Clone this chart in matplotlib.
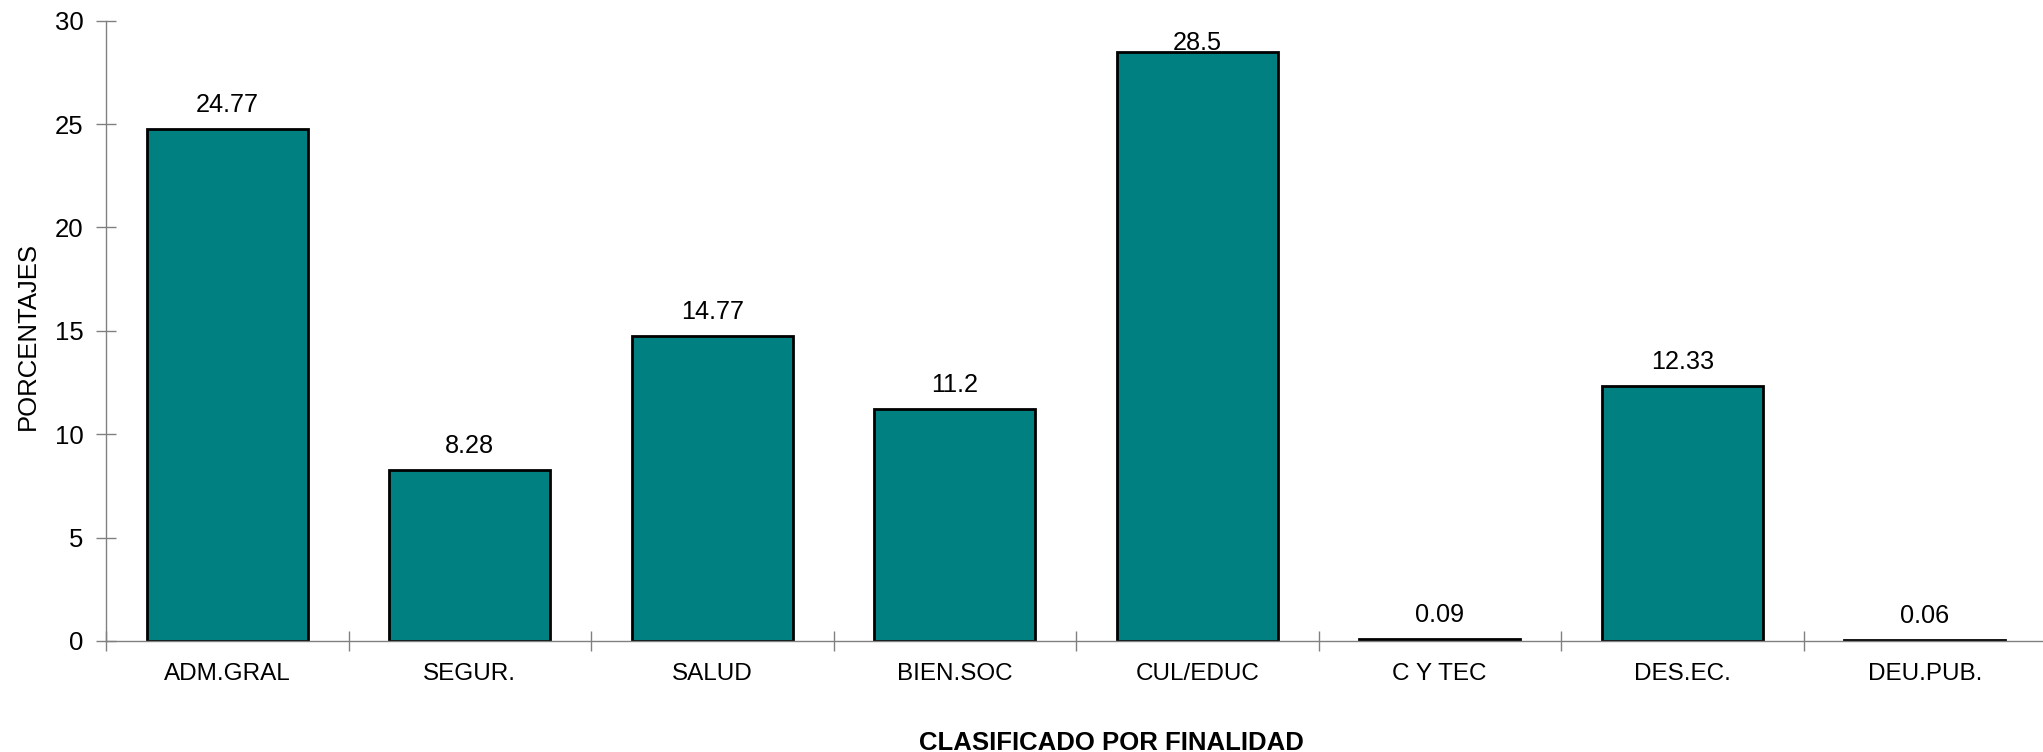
import matplotlib.pyplot as plt
import numpy as np

plt.rcParams["font.family"] = ["Liberation Sans", "DejaVu Sans"]

categories = ["ADM.GRAL", "SEGUR.", "SALUD", "BIEN.SOC", "CUL/EDUC", "C Y TEC", "DES.EC.", "DEU.PUB."]
values = [24.77, 8.28, 14.77, 11.2, 28.5, 0.09, 12.33, 0.06]
labels = ["24.77", "8.28", "14.77", "11.2", "28.5", "0.09", "12.33", "0.06"]

W, H = 2043, 752
fig = plt.figure(figsize=(W / 100, H / 100), dpi=100)
ax = fig.add_axes([106 / W, 1 - 641 / H, 1940 / W, 620.3 / H])

x = np.arange(len(categories))
ax.bar(x, values, width=0.665, color="#008080", edgecolor="black", linewidth=2.0)

# value labels above bars, kept inside the plot area
for xi, v, lab in zip(x, values, labels):
    yb = min(v + 0.82, 28.58)
    ax.text(xi, yb, lab, ha="center", va="baseline", fontsize=18.2)

ax.set_xlim(-0.5, len(categories) - 0.5)
ax.set_ylim(0, 30)
ax.set_yticks(range(0, 31, 5))

# category boundaries as major ticks, names on minor ticks
ax.set_xticks(np.arange(-0.5, len(categories), 1.0))
ax.set_xticklabels([])
ax.set_xticks(x, minor=True)
ax.set_xticklabels(categories, minor=True, fontsize=17.5)
ax.tick_params(axis="x", which="major", direction="inout", length=14, width=1, color="#808080")
ax.tick_params(axis="x", which="minor", length=0, pad=16)
ax.tick_params(axis="y", direction="inout", length=14, width=1, color="#808080",
               labelsize=18.5, pad=9)

for s in ["top", "right"]:
    ax.spines[s].set_visible(False)
for s in ["left", "bottom"]:
    ax.spines[s].set_color("#808080")
    ax.spines[s].set_linewidth(1.0)

fig.text(27.5 / W, 1 - 336 / H, "PORCENTAJES", rotation=90, ha="center", va="center", fontsize=18.5)
fig.text(1111.5 / W, 1 - 743.5 / H, "CLASIFICADO POR FINALIDAD", ha="center", va="center",
         fontsize=18.5, fontweight="bold")

fig.savefig("out.png", dpi=100)
